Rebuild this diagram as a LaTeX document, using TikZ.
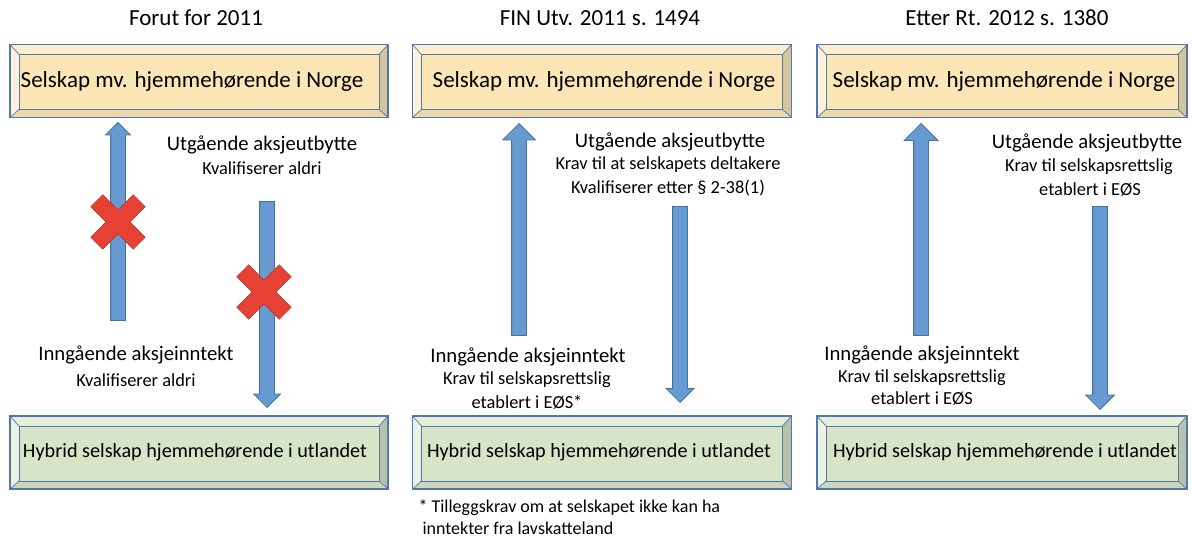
\documentclass[tikz,border=0pt]{standalone}
\usepackage{fontspec}
\setmainfont{Carlito}
\usetikzlibrary{shapes.arrows}

\definecolor{boxedge}{RGB}{79,121,174}
\definecolor{norgefill}{RGB}{252,230,181}
\definecolor{norgelight}{RGB}{254,242,218}
\definecolor{utlfill}{RGB}{216,228,200}
\definecolor{utllight}{RGB}{236,242,228}
\definecolor{arrowfill}{RGB}{102,154,208}
\definecolor{arrowedge}{RGB}{66,114,160}
\definecolor{crossred}{RGB}{230,65,52}
\definecolor{crossedge}{RGB}{170,60,60}

\tikzset{
  bevel/.style n args={3}{draw=boxedge, line width=1.3pt, fill=#1, inner sep=0pt,
    minimum width=#3, minimum height=73,
    path picture={
      \coordinate (nw) at (path picture bounding box.north west);
      \coordinate (ne) at (path picture bounding box.north east);
      \coordinate (sw) at (path picture bounding box.south west);
      \coordinate (se) at (path picture bounding box.south east);
      \fill[#2!70!#1] (nw) -- (ne) -- ([shift={(-9pt,-10pt)}]ne) -- ([shift={(9pt,-10pt)}]nw) -- cycle;
      \fill[#2] (nw) -- ([shift={(9pt,-10pt)}]nw) -- ([shift={(9pt,8pt)}]sw) -- (sw) -- cycle;
      \fill[#1!40!black!25!#1] (ne) -- (se) -- ([shift={(-9pt,8pt)}]se) -- ([shift={(-9pt,-10pt)}]ne) -- cycle;
      \fill[#1!60!black!15!#1] (sw) -- (se) -- ([shift={(-9pt,8pt)}]se) -- ([shift={(9pt,8pt)}]sw) -- cycle;
      \draw[boxedge, line width=0.9pt] ([shift={(9pt,-10pt)}]nw) rectangle ([shift={(-9pt,8pt)}]se);
      \draw[boxedge, line width=0.7pt] (nw) -- ++(9pt,-10pt) (ne) -- ++(-9pt,-10pt)
        (sw) -- ++(9pt,8pt) (se) -- ++(-9pt,8pt);
    }},
  blockarrow/.style={single arrow, draw=arrowedge, fill=arrowfill, line width=0.8pt,
    inner xsep=0pt, inner ysep=7pt, minimum width=0pt, single arrow head extend={(#1-14)/2},
    single arrow head indent=0pt, anchor=tip},
  redx/.pic={
    \filldraw[fill=crossred, draw=crossedge, line width=0.6pt, rotate=45]
      (8.5,8.5) -- (8.5,30) -- (-8.5,30) -- (-8.5,8.5) -- (-30,8.5) -- (-30,-8.5)
      -- (-8.5,-8.5) -- (-8.5,-30) -- (8.5,-30) -- (8.5,-8.5) -- (30,-8.5) -- (30,8.5) -- cycle;
  }
}

\begin{document}
\begin{tikzpicture}[x=1pt, y=-1pt,
    title/.style={font=\fontsize{23}{27}\selectfont},
    toptext/.style={font=\fontsize{23}{27}\selectfont},
    bottext/.style={font=\fontsize{20.2}{24}\selectfont},
    head/.style={font=\fontsize{20.7}{24}\selectfont},
    sub/.style={font=\fontsize{18.4}{22}\selectfont}]
\useasboundingbox (0,0) rectangle (1192,540);

% Titles
\node[title] (t1) at (196,18) {Forut for 2011};
\node[title] (t2) at (600,18) {FIN Utv. 2011 s. 1494};
\node[title] (t3) at (1007,18) {Etter Rt. 2012 s. 1380};

% Boxes
\node[bevel={norgefill}{norgelight}{378}] (n1) at (199,81) {};
\node[bevel={norgefill}{norgelight}{379}] (n2) at (602,81) {};
\node[bevel={norgefill}{norgelight}{370}] (n3) at (1002,81) {};
\node[bevel={utlfill}{utllight}{378}] (u1) at (199,452.5) {};
\node[bevel={utlfill}{utllight}{379}] (u2) at (602,452.5) {};
\node[bevel={utlfill}{utllight}{370}] (u3) at (1002,452.5) {};
\node[toptext] (nt1) at ([xshift=-7pt]n1) {Selskap mv. hjemmehørende i Norge};
\node[toptext] (nt2) at ([xshift=2pt]n2) {Selskap mv. hjemmehørende i Norge};
\node[toptext] (nt3) at ([xshift=2pt]n3) {Selskap mv. hjemmehørende i Norge};
\node[bottext] (ut1) at ([xshift=-4pt]u1) {Hybrid selskap hjemmehørende i utlandet};
\node[bottext] (ut2) at ([xshift=-3pt]u2) {Hybrid selskap hjemmehørende i utlandet};
\node[bottext] (ut3) at ([xshift=3pt]u3) {Hybrid selskap hjemmehørende i utlandet};

% Arrows
\node[blockarrow=24, rotate=90, minimum height=198] (up1) at (118,122) {};
\node[blockarrow=26, rotate=-90, minimum height=206] (down1) at (267,408) {};
\node[blockarrow=32, rotate=90, minimum height=212] (up2) at (519,123) {};
\node[blockarrow=27, rotate=-90, minimum height=196] (down2) at (680,403) {};
\node[blockarrow=33, rotate=90, minimum height=212] (up3) at (921,123) {};
\node[blockarrow=28, rotate=-90, minimum height=203] (down3) at (1100,410) {};

% Crosses
\pic (x1) at (118,222) {redx};
\pic (x2) at (264,292) {redx};

% Forut for 2011
\node[head] (ut1a) at (262,145) {Utgående aksjeutbytte};
\node[sub] (ut1b) at (262,168) {Kvalifiserer aldri};
\node[head] (inn1a) at (136,355) {Inngående aksjeinntekt};
\node[sub] (inn1b) at (136,380) {Kvalifiserer aldri};

% FIN Utv. 2011
\node[head] (ut2a) at (670,142) {Utgående aksjeutbytte};
\node[sub] (ut2b) at (668,165) {Krav til at selskapets deltakere};
\node[sub] (ut2c) at (668,188) {Kvalifiserer etter § 2-38(1)};
\node[head] (inn2a) at (528,357) {Inngående aksjeinntekt};
\node[sub] (inn2b) at (527,380) {Krav til selskapsrettslig};
\node[sub] (inn2c) at (527,402) {etablert i EØS*};

% Etter Rt. 2012
\node[head] (ut3a) at (1087,143) {Utgående aksjeutbytte};
\node[sub] (ut3b) at (1089,167) {Krav til selskapsrettslig};
\node[sub] (ut3c) at (1090,190) {etablert i EØS};
\node[head] (inn3a) at (922,355) {Inngående aksjeinntekt};
\node[sub] (inn3b) at (922,378) {Krav til selskapsrettslig};
\node[sub] (inn3c) at (922,399) {etablert i EØS};

% Footnote
\node[font=\fontsize{18}{22}\selectfont, anchor=west] (fn1) at (415,508) {* Tilleggskrav om at selskapet ikke kan ha};
\node[font=\fontsize{18}{22}\selectfont, anchor=west] (fn2) at (419,528) {inntekter fra lavskatteland};
\end{tikzpicture}
\end{document}
